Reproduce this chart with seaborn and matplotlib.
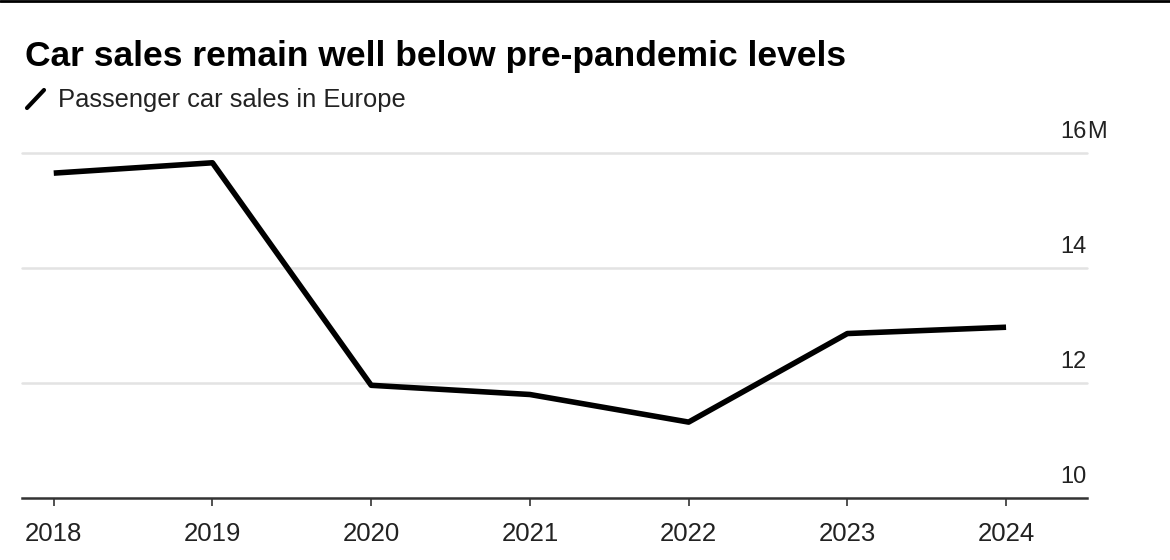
import pandas as pd
import matplotlib.pyplot as plt
import matplotlib.transforms as mtransforms
from matplotlib.lines import Line2D
import seaborn as sns

# Passenger car sales in Europe (millions)
years = [2018, 2019, 2020, 2021, 2022, 2023, 2024]
sales = [15.65, 15.83, 11.96, 11.80, 11.32, 12.86, 12.97]
y_ticks = [10, 12, 14, 16]
y_tick_labels = ['10', '12', '14', '16']

df = pd.DataFrame({'Year': years, 'Sales': sales})

sns.set_style("white")
plt.rcParams['font.family'] = ['Liberation Sans', 'DejaVu Sans']

fig = plt.figure(figsize=(11.7, 5.6), dpi=100)
ax = fig.add_axes([22 / 1170, 1 - 498 / 560, (1087 - 22) / 1170, (498 - 153) / 560])

# gridlines
for v in y_ticks[1:]:
    ax.axhline(v, color='#e3e3e3', linewidth=1.8, zorder=1, clip_on=False)

sns.lineplot(data=df, x='Year', y='Sales', ax=ax, color='black', linewidth=4,
             zorder=3, solid_capstyle='butt')

ax.set_xlim(2017.8, 2024.51)
ax.set_ylim(10, 16)
ax.set_xticks(years)
ax.set_xticklabels([str(y) for y in years])
ax.set_yticks([])
ax.set_xlabel('')
ax.set_ylabel('')

for s in ['top', 'right', 'left']:
    ax.spines[s].set_visible(False)
ax.spines['bottom'].set_color('#333333')
ax.spines['bottom'].set_linewidth(1.8)
ax.tick_params(axis='x', length=6, width=1.2, color='#333333', pad=11,
               labelsize=18.5, labelcolor='#222222', bottom=True)

# right-side value labels sitting above the gridlines
offset = mtransforms.ScaledTranslation(0, 15 / 100, fig.dpi_scale_trans)
trans = mtransforms.blended_transform_factory(ax.transAxes, ax.transData) + offset
for v, lab in zip(y_ticks, y_tick_labels):
    ax.text(1.0, v, lab, transform=trans, ha='right', va='baseline',
            fontsize=17, color='#222222')
ax.text(1.0, 16, 'M', transform=trans, ha='left', va='baseline',
        fontsize=17, color='#222222')

# title and subtitle
fig.text(25 / 1170, 1 - 66 / 560, 'Car sales remain well below pre-pandemic levels',
         fontsize=25.5, fontweight='bold', color='black')
fig.text(58 / 1170, 1 - 107 / 560, 'Passenger car sales in Europe',
         fontsize=18.4, color='#222222')
fig.add_artist(Line2D([27 / 1170, 44 / 1170], [1 - 108 / 560, 1 - 90 / 560],
                      transform=fig.transFigure, color='black', linewidth=3,
                      solid_capstyle='round'))

# top border strip
fig.add_artist(Line2D([0, 1], [1 - 1 / 560, 1 - 1 / 560], transform=fig.transFigure,
                      color='black', linewidth=2))

fig.savefig('out.png', dpi=100, facecolor='white')
